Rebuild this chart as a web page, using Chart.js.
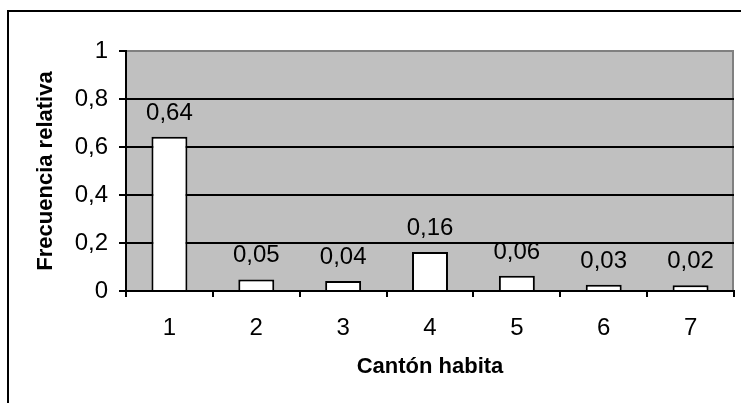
<!DOCTYPE html>
<html>
<head>
<meta charset="utf-8">
<script src="https://cdn.jsdelivr.net/npm/chart.js@4/dist/chart.umd.min.js"></script>
<style>
  html, body { margin: 0; padding: 0; background: #fff; }
  #wrap { width: 741px; height: 403px; position: relative; }
</style>
</head>
<body>
<div id="wrap"><canvas id="c" width="741" height="403"></canvas></div>
<script>
const categories = ['1', '2', '3', '4', '5', '6', '7'];
const frecuencia = [0.643, 0.048, 0.042, 0.163, 0.064, 0.026, 0.024];
const dataLabels = ['0,64', '0,05', '0,04', '0,16', '0,06', '0,03', '0,02'];
const yTickLabels = ['0', '0,2', '0,4', '0,6', '0,8', '1'];
const xTitle = 'Cantón habita';
const yTitle = 'Frecuencia relativa';

const FONT = "'Liberation Sans', Arial, sans-serif";

const framePlugin = {
  id: 'frame',
  beforeDraw(chart) {
    const ctx = chart.ctx;
    const a = chart.chartArea;
    ctx.save();
    ctx.fillStyle = '#ffffff';
    ctx.fillRect(0, 0, chart.width, chart.height);
    ctx.strokeStyle = '#000000';
    ctx.lineWidth = 2;
    ctx.strokeRect(8, 11, chart.width + 20, chart.height + 20);
    ctx.fillStyle = '#c0c0c0';
    ctx.fillRect(a.left, a.top, a.right - a.left, a.bottom - a.top);
    ctx.strokeStyle = '#808080';
    ctx.lineWidth = 2;
    ctx.beginPath();
    ctx.moveTo(a.left, a.top);
    ctx.lineTo(a.right - 1, a.top);
    ctx.lineTo(a.right - 1, a.bottom);
    ctx.stroke();
    ctx.restore();
  }
};

const labelPlugin = {
  id: 'barLabels',
  afterDatasetsDraw(chart) {
    const ctx = chart.ctx;
    const meta = chart.getDatasetMeta(0);
    ctx.save();
    ctx.font = '24px ' + FONT;
    ctx.fillStyle = '#000000';
    ctx.textAlign = 'center';
    ctx.textBaseline = 'alphabetic';
    meta.data.forEach((bar, i) => {
      ctx.fillText(dataLabels[i], bar.x, bar.y - 17);
    });
    ctx.restore();
  }
};

new Chart(document.getElementById('c'), {
  type: 'bar',
  data: {
    labels: categories,
    datasets: [{
      data: frecuencia,
      backgroundColor: '#ffffff',
      borderColor: '#000000',
      borderWidth: 2,
      borderSkipped: 'start',
      categoryPercentage: 1,
      barPercentage: 0.414
    }]
  },
  options: {
    responsive: false,
    animation: false,
    devicePixelRatio: 1,
    layout: { padding: { top: 51, right: 7, bottom: 0, left: 0 } },
    plugins: {
      legend: { display: false },
      tooltip: { enabled: false }
    },
    scales: {
      x: {
        type: 'category',
        offset: true,
        grid: {
          offset: true,
          drawOnChartArea: false,
          drawTicks: true,
          tickLength: 6,
          color: '#000000',
          tickColor: '#000000',
          lineWidth: 2
        },
        border: { display: true, color: '#000000', width: 2 },
        ticks: {
          color: '#000000',
          font: { family: FONT, size: 24 },
          padding: 17,
          maxRotation: 0,
          autoSkip: false
        },
        title: {
          display: true,
          text: xTitle,
          color: '#000000',
          font: { family: FONT, size: 22, weight: 'bold' },
          padding: { top: 0, bottom: 23 }
        },
        afterFit(scale) { scale.height = 112; }
      },
      y: {
        min: 0,
        max: 1,
        ticks: {
          stepSize: 0.2,
          color: '#000000',
          font: { family: FONT, size: 24 },
          padding: 11,
          callback: (v, i) => yTickLabels[i]
        },
        grid: {
          drawTicks: true,
          tickLength: 7,
          color: (c) => (c.tick && Math.abs(c.tick.value - 1) < 1e-9) ? 'rgba(0,0,0,0)' : '#000000',
          tickColor: '#000000',
          lineWidth: 2
        },
        border: { display: true, color: '#000000', width: 2 },
        title: {
          display: true,
          text: yTitle,
          color: '#000000',
          font: { family: FONT, size: 22, weight: 'bold' },
          padding: { top: 33, bottom: 0 }
        },
        afterFit(scale) { scale.width = 126; }
      }
    }
  },
  plugins: [framePlugin, labelPlugin]
});
</script>
</body>
</html>
